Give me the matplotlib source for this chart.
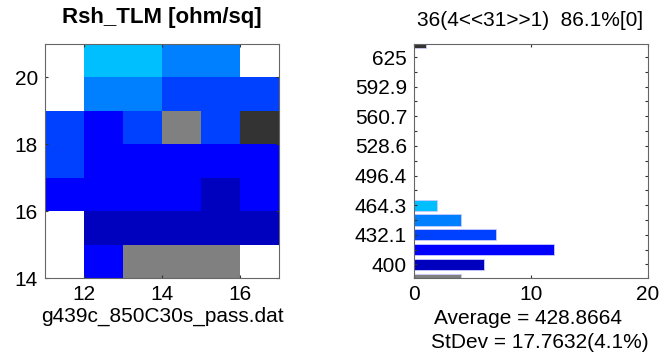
import numpy as np
import matplotlib
matplotlib.use("Agg")
import matplotlib.pyplot as plt
from matplotlib.colors import ListedColormap, BoundaryNorm

plt.rcParams['font.family'] = ['Liberation Sans', 'DejaVu Sans']

# ---- data ----
x_edges = [11, 12, 13, 14, 15, 16, 17]
y_edges = [14, 15, 16, 17, 18, 19, 20, 21]
nan = np.nan
# rows from y=14-15 (bottom) to y=20-21 (top)
rsh_values = np.array([
    [nan, 410, 375, 370, 385, nan],
    [nan, 398, 403, 396, 405, 401],
    [417, 411, 419, 421, 402, 413],
    [435, 418, 412, 420, 416, 414],
    [428, 415, 431, 380, 434, 650],
    [nan, 445, 450, 430, 433, 436],
    [nan, 462, 465, 447, 449, nan],
])
bin_low = 400.0
bin_high = 625.0
n_bins = 15
ytick_labels = ['400', '432.1', '464.3', '496.4', '528.6', '560.7', '592.9', '625']
title_left = 'Rsh_TLM [ohm/sq]'
title_right = '36(4<<31>>1)  86.1%[0]'
xlabel_left = 'g439c_850C30s_pass.dat'
stat_avg = 'Average = 428.8664'
stat_std = 'StDev = 17.7632(4.1%)'

# jet(16)-like colours for in-range bins, plus under / over colours
bin_colors = [(0, 0, .75), (0, 0, 1), (0, .25, 1), (0, .5, 1), (0, .75, 1),
              (0, 1, 1), (.25, 1, .75), (.5, 1, .5), (.75, 1, .25), (1, 1, 0),
              (1, .75, 0), (1, .5, 0), (1, .25, 0), (1, 0, 0), (.75, 0, 0)]
under_color = (0.5, 0.5, 0.5)
over_color = (0.2, 0.2, 0.2)

# ---- derived ----
step = (bin_high - bin_low) / (n_bins - 1)
centers = bin_low + step * np.arange(-1, n_bins + 1)       # incl. under/over
edges_inner = bin_low - step / 2 + step * np.arange(n_bins + 1)
bounds = np.concatenate([[-1e9], edges_inner, [1e9]])
all_colors = [under_color] + bin_colors + [over_color]
cmap = ListedColormap(all_colors)
norm = BoundaryNorm(bounds, cmap.N)
vals = rsh_values[~np.isnan(rsh_values)]
counts, _ = np.histogram(vals, bins=bounds)

fig = plt.figure(figsize=(6.64, 3.54), dpi=100)
frame_c = '#666666'
FS = 15

# ---- heatmap ----
ax1 = fig.add_axes([45/664, 1-278/354, 234/664, 234/354])
ax1.pcolormesh(x_edges, y_edges, np.ma.masked_invalid(rsh_values), cmap=cmap, norm=norm)
ax1.set_xlim(11, 17)
ax1.set_ylim(14, 21)
ax1.set_xticks([12, 14, 16])
ax1.set_yticks([14, 16, 18, 20])
ax1.tick_params(direction='in', top=True, right=True, length=2.5, width=0.8,
                labelsize=FS, color='#333333', pad=5)
for s in ax1.spines.values():
    s.set_color(frame_c)
    s.set_linewidth(0.8)
fig.text(162/664, 1-18/354, title_left, ha='center', va='center',
         fontsize=16, fontweight='bold')
fig.text(162/664, 1-316/354, xlabel_left, ha='center', va='center', fontsize=FS)

# ---- histogram ----
ax2 = fig.add_axes([414/664, 1-278/354, 234/664, 234/354])
ax2.barh(centers, counts, height=step*0.76, color=all_colors,
         edgecolor=(0.8, 0.8, 1.0), linewidth=0.6)
ax2.set_xlim(0, 20)
ax2.set_ylim(bin_low - step*0.92, bin_high + step*0.88)
ax2.set_xticks([0, 10, 20])
ax2.set_yticks(bin_low + 2*step*np.arange(len(ytick_labels)))
ax2.set_yticklabels(ytick_labels)
ax2.set_yticks(bin_low + step + 2*step*np.arange(len(ytick_labels)-1), minor=True)
ax2.tick_params(which='both', direction='in', top=True, right=True, length=2.5,
                width=0.8, labelsize=FS, color='#333333', pad=5)
for s in ax2.spines.values():
    s.set_color(frame_c)
    s.set_linewidth(0.8)
fig.text(530/664, 1-20/354, title_right, ha='center', va='center', fontsize=FS)
fig.text(528/664, 1-318/354, stat_avg, ha='center', va='center', fontsize=FS)
fig.text(540/664, 1-342/354, stat_std, ha='center', va='center', fontsize=FS)

fig.savefig('out.png', dpi=100)
